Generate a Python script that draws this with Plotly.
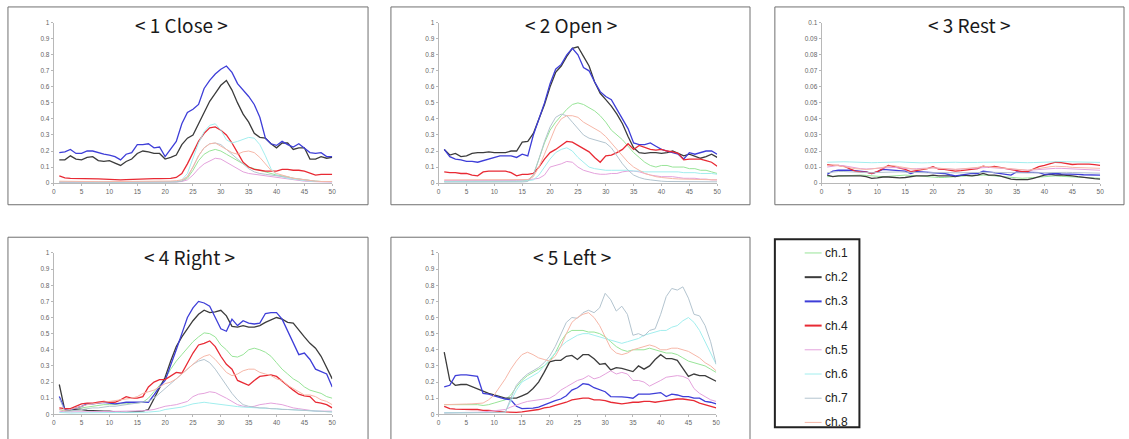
import plotly.graph_objects as go

# ---------------- data ----------------
samples = list(range(1, 51))
channel_names = ["ch.1", "ch.2", "ch.3", "ch.4", "ch.5", "ch.6", "ch.7", "ch.8"]
panel_titles = ["< 1 Close >", "< 2 Open >", "< 3 Rest >", "< 4 Right >", "< 5 Left >"]
x_ticks = [0, 5, 10, 15, 20, 25, 30, 35, 40, 45, 50]

# ---- 1 Close ----
close_ch1 = [0.006, 0.005, 0.005, 0.006, 0.005, 0.005, 0.004, 0.005, 0.005, 0.004,
             0.004, 0.005, 0.005, 0.006, 0.006, 0.005, 0.005, 0.005, 0.006, 0.006,
             0.007, 0.008, 0.012, 0.03, 0.08, 0.14, 0.18, 0.2, 0.21, 0.2,
             0.18, 0.16, 0.14, 0.12, 0.1, 0.09, 0.08, 0.07, 0.06, 0.05,
             0.045, 0.04, 0.03, 0.025, 0.02, 0.015, 0.012, 0.01, 0.01, 0.01]
close_ch2 = [0.145, 0.145, 0.17, 0.15, 0.145, 0.16, 0.165, 0.14, 0.135, 0.14,
             0.125, 0.11, 0.135, 0.15, 0.185, 0.2, 0.195, 0.185, 0.185, 0.15,
             0.16, 0.175, 0.24, 0.28, 0.3, 0.37, 0.45, 0.51, 0.56, 0.61,
             0.64, 0.58, 0.5, 0.43, 0.38, 0.31, 0.285, 0.28, 0.245, 0.22,
             0.25, 0.25, 0.21, 0.22, 0.22, 0.15, 0.15, 0.165, 0.155, 0.16]
close_ch3 = [0.19, 0.195, 0.21, 0.185, 0.185, 0.2, 0.2, 0.19, 0.18, 0.175,
             0.165, 0.145, 0.18, 0.19, 0.24, 0.24, 0.245, 0.22, 0.225, 0.165,
             0.21, 0.26, 0.37, 0.44, 0.46, 0.49, 0.59, 0.64, 0.68, 0.71,
             0.73, 0.69, 0.62, 0.58, 0.54, 0.49, 0.41, 0.28, 0.245, 0.235,
             0.26, 0.24, 0.225, 0.245, 0.22, 0.19, 0.185, 0.19, 0.165, 0.165]
close_ch4 = [0.045, 0.032, 0.03, 0.03, 0.028, 0.028, 0.027, 0.026, 0.025, 0.022,
             0.02, 0.02, 0.022, 0.024, 0.025, 0.026, 0.027, 0.028, 0.028, 0.028,
             0.03, 0.035, 0.06, 0.12, 0.19, 0.26, 0.31, 0.345, 0.35, 0.33,
             0.3, 0.25, 0.19, 0.13, 0.1, 0.085, 0.08, 0.075, 0.075, 0.075,
             0.085, 0.085, 0.08, 0.08, 0.075, 0.06, 0.05, 0.055, 0.055, 0.055]
close_ch5 = [0.005, 0.004, 0.004, 0.005, 0.004, 0.004, 0.003, 0.004, 0.004, 0.003,
             0.003, 0.004, 0.004, 0.005, 0.005, 0.004, 0.004, 0.005, 0.005, 0.005,
             0.006, 0.007, 0.01, 0.02, 0.05, 0.09, 0.12, 0.14, 0.155, 0.15,
             0.13, 0.11, 0.09, 0.07, 0.06, 0.055, 0.05, 0.045, 0.04, 0.035,
             0.03, 0.025, 0.02, 0.015, 0.012, 0.01, 0.008, 0.007, 0.006, 0.006]
close_ch6 = [0.008, 0.007, 0.007, 0.006, 0.006, 0.006, 0.005, 0.005, 0.005, 0.005,
             0.005, 0.005, 0.005, 0.006, 0.006, 0.006, 0.006, 0.006, 0.007, 0.007,
             0.008, 0.01, 0.02, 0.06, 0.15, 0.25, 0.32, 0.36, 0.37, 0.33,
             0.27, 0.25, 0.26, 0.275, 0.285, 0.28, 0.24, 0.17, 0.09, 0.05,
             0.04, 0.03, 0.025, 0.02, 0.015, 0.012, 0.01, 0.01, 0.009, 0.009]
close_ch7 = [0.006, 0.006, 0.005, 0.005, 0.005, 0.005, 0.005, 0.004, 0.004, 0.004,
             0.004, 0.004, 0.005, 0.005, 0.005, 0.005, 0.005, 0.006, 0.006, 0.006,
             0.006, 0.008, 0.012, 0.04, 0.1, 0.17, 0.22, 0.245, 0.25, 0.24,
             0.21, 0.18, 0.15, 0.12, 0.09, 0.07, 0.06, 0.055, 0.05, 0.045,
             0.04, 0.035, 0.03, 0.025, 0.02, 0.015, 0.012, 0.01, 0.01, 0.01]
close_ch8 = [0.012, 0.011, 0.011, 0.01, 0.01, 0.01, 0.01, 0.009, 0.009, 0.009,
             0.009, 0.009, 0.01, 0.01, 0.01, 0.011, 0.011, 0.011, 0.012, 0.012,
             0.013, 0.015, 0.02, 0.04, 0.1, 0.17, 0.22, 0.245, 0.25, 0.23,
             0.21, 0.19, 0.18, 0.195, 0.2, 0.19, 0.16, 0.12, 0.08, 0.06,
             0.05, 0.04, 0.03, 0.025, 0.02, 0.015, 0.012, 0.01, 0.01, 0.01]

# ---- 2 Open ----
open_ch1 = [0.01, 0.01, 0.009, 0.009, 0.009, 0.008, 0.008, 0.008, 0.009, 0.009,
            0.01, 0.01, 0.011, 0.012, 0.014, 0.018, 0.05, 0.15, 0.25, 0.33,
            0.38, 0.42, 0.46, 0.49, 0.5, 0.49, 0.47, 0.45, 0.42, 0.38,
            0.33, 0.3, 0.27, 0.23, 0.19, 0.16, 0.13, 0.11, 0.1, 0.11,
            0.11, 0.1, 0.1, 0.1, 0.09, 0.09, 0.08, 0.08, 0.07, 0.06]
open_ch2 = [0.21, 0.175, 0.185, 0.165, 0.17, 0.185, 0.19, 0.19, 0.195, 0.19,
            0.19, 0.19, 0.2, 0.2, 0.255, 0.26, 0.31, 0.4, 0.49, 0.6,
            0.69, 0.73, 0.79, 0.84, 0.85, 0.79, 0.73, 0.63, 0.56, 0.52,
            0.48, 0.43, 0.37, 0.29, 0.22, 0.19, 0.185, 0.19, 0.19, 0.185,
            0.19, 0.2, 0.185, 0.17, 0.18, 0.165, 0.155, 0.165, 0.18, 0.16]
open_ch3 = [0.21, 0.165, 0.15, 0.145, 0.135, 0.135, 0.13, 0.14, 0.15, 0.16,
            0.17, 0.17, 0.17, 0.16, 0.18, 0.17, 0.3, 0.4, 0.5, 0.62,
            0.71, 0.74, 0.8, 0.84, 0.8, 0.72, 0.7, 0.63, 0.57, 0.54,
            0.52, 0.46, 0.4, 0.34, 0.25, 0.24, 0.24, 0.25, 0.23, 0.21,
            0.2, 0.19, 0.18, 0.15, 0.19, 0.18, 0.19, 0.2, 0.2, 0.18]
open_ch4 = [0.07, 0.065, 0.065, 0.06, 0.06, 0.05, 0.045, 0.07, 0.075, 0.075,
            0.075, 0.075, 0.065, 0.045, 0.055, 0.055, 0.06, 0.1, 0.15, 0.19,
            0.21, 0.235, 0.26, 0.255, 0.235, 0.22, 0.195, 0.16, 0.13, 0.17,
            0.175, 0.19, 0.21, 0.245, 0.21, 0.235, 0.22, 0.21, 0.205, 0.21,
            0.2, 0.195, 0.185, 0.145, 0.15, 0.15, 0.15, 0.14, 0.13, 0.105]
open_ch5 = [0.015, 0.015, 0.014, 0.014, 0.013, 0.012, 0.012, 0.012, 0.013, 0.013,
            0.014, 0.015, 0.015, 0.016, 0.018, 0.02, 0.025, 0.03, 0.05, 0.1,
            0.11, 0.12, 0.135, 0.13, 0.1, 0.08, 0.07, 0.06, 0.055, 0.055,
            0.06, 0.06, 0.07, 0.075, 0.075, 0.07, 0.06, 0.05, 0.045, 0.04,
            0.04, 0.04, 0.035, 0.03, 0.03, 0.03, 0.025, 0.025, 0.02, 0.02]
open_ch6 = [0.01, 0.01, 0.009, 0.009, 0.009, 0.008, 0.008, 0.008, 0.008, 0.009,
            0.009, 0.01, 0.01, 0.01, 0.012, 0.015, 0.02, 0.05, 0.1, 0.15,
            0.19, 0.21, 0.22, 0.2, 0.16, 0.13, 0.1, 0.09, 0.085, 0.08,
            0.08, 0.08, 0.08, 0.08, 0.075, 0.075, 0.07, 0.07, 0.07, 0.07,
            0.07, 0.07, 0.07, 0.065, 0.065, 0.065, 0.06, 0.06, 0.06, 0.055]
open_ch7 = [0.006, 0.006, 0.006, 0.005, 0.005, 0.005, 0.005, 0.005, 0.005, 0.005,
            0.005, 0.006, 0.006, 0.006, 0.007, 0.01, 0.05, 0.15, 0.26, 0.35,
            0.41, 0.43, 0.42, 0.38, 0.34, 0.3, 0.28, 0.27, 0.26, 0.25,
            0.22, 0.17, 0.12, 0.08, 0.05, 0.035, 0.025, 0.02, 0.015, 0.012,
            0.01, 0.01, 0.01, 0.01, 0.009, 0.009, 0.009, 0.008, 0.008, 0.008]
open_ch8 = [0.02, 0.02, 0.02, 0.019, 0.019, 0.018, 0.018, 0.018, 0.019, 0.019,
            0.02, 0.02, 0.02, 0.02, 0.02, 0.022, 0.04, 0.1, 0.18, 0.27,
            0.35, 0.4, 0.42, 0.42, 0.41, 0.38, 0.36, 0.34, 0.32, 0.29,
            0.25, 0.21, 0.17, 0.13, 0.1, 0.08, 0.06, 0.05, 0.04, 0.035,
            0.03, 0.028, 0.026, 0.025, 0.024, 0.022, 0.022, 0.02, 0.02, 0.02]

# ---- 3 Rest ----
rest_ch1 = [0.004, 0.0042, 0.0045, 0.0045, 0.0048, 0.005, 0.005, 0.0048, 0.0045, 0.004,
            0.004, 0.0042, 0.0045, 0.0048, 0.005, 0.0048, 0.0045, 0.0042, 0.004, 0.0038,
            0.0035, 0.0035, 0.0038, 0.004, 0.0042, 0.0045, 0.0045, 0.0048, 0.005, 0.0048,
            0.0045, 0.0042, 0.004, 0.0035, 0.003, 0.003, 0.0032, 0.0035, 0.004, 0.0042,
            0.0045, 0.0045, 0.0042, 0.004, 0.0038, 0.0035, 0.0035, 0.0032, 0.003, 0.003]
rest_ch2 = [0.005, 0.004, 0.0045, 0.0045, 0.0045, 0.0045, 0.0045, 0.004, 0.003, 0.0032,
            0.0038, 0.0038, 0.0035, 0.0032, 0.0035, 0.0042, 0.0045, 0.0045, 0.0045, 0.005,
            0.0045, 0.0045, 0.0045, 0.004, 0.0048, 0.0048, 0.0045, 0.005, 0.006, 0.005,
            0.005, 0.0045, 0.0035, 0.0025, 0.0022, 0.0022, 0.0022, 0.003, 0.004, 0.005,
            0.0055, 0.005, 0.0052, 0.005, 0.0045, 0.004, 0.0035, 0.003, 0.0028, 0.0025]
rest_ch3 = [0.0055, 0.0075, 0.008, 0.0082, 0.008, 0.0078, 0.0075, 0.007, 0.006, 0.007,
            0.0085, 0.0082, 0.008, 0.008, 0.0075, 0.006, 0.0072, 0.007, 0.0068, 0.0065,
            0.0062, 0.006, 0.0052, 0.0045, 0.005, 0.0055, 0.006, 0.006, 0.0075, 0.007,
            0.0065, 0.006, 0.0058, 0.005, 0.007, 0.0068, 0.0065, 0.0067, 0.0065, 0.0055,
            0.0058, 0.006, 0.0058, 0.0058, 0.0055, 0.0055, 0.0052, 0.005, 0.005, 0.005]
rest_ch4 = [0.0115, 0.011, 0.011, 0.0105, 0.009, 0.0075, 0.007, 0.0068, 0.006, 0.0072,
            0.009, 0.011, 0.0102, 0.0095, 0.0086, 0.0072, 0.0078, 0.0082, 0.009, 0.0102,
            0.0088, 0.0086, 0.0082, 0.0075, 0.0078, 0.0082, 0.0088, 0.009, 0.0106, 0.0098,
            0.0104, 0.0098, 0.0092, 0.0085, 0.008, 0.0072, 0.0071, 0.0085, 0.0102, 0.011,
            0.0122, 0.013, 0.0128, 0.0122, 0.0116, 0.0118, 0.012, 0.0118, 0.0115, 0.011]
rest_ch5 = [0.01, 0.0105, 0.011, 0.0108, 0.0102, 0.0095, 0.009, 0.0088, 0.009, 0.0095,
            0.0098, 0.01, 0.0098, 0.0095, 0.009, 0.0088, 0.009, 0.0092, 0.0095, 0.0095,
            0.0092, 0.009, 0.0088, 0.0085, 0.0088, 0.009, 0.0092, 0.0095, 0.0098, 0.0098,
            0.0095, 0.0092, 0.009, 0.0088, 0.0085, 0.0082, 0.008, 0.0082, 0.0085, 0.0088,
            0.009, 0.0092, 0.0092, 0.009, 0.0088, 0.0088, 0.0085, 0.0085, 0.0082, 0.008]
rest_ch6 = [0.013, 0.0132, 0.0133, 0.0133, 0.0132, 0.013, 0.0128, 0.0127, 0.0127, 0.0128,
            0.013, 0.0131, 0.0132, 0.0132, 0.013, 0.0128, 0.0127, 0.0126, 0.0127, 0.0128,
            0.013, 0.0131, 0.0131, 0.013, 0.0129, 0.0128, 0.0128, 0.0129, 0.013, 0.0131,
            0.0132, 0.0132, 0.0131, 0.013, 0.0128, 0.0127, 0.0127, 0.0128, 0.013, 0.0132,
            0.0133, 0.0134, 0.0134, 0.0133, 0.0132, 0.0131, 0.013, 0.013, 0.0129, 0.0129]
rest_ch7 = [0.0065, 0.007, 0.0072, 0.0072, 0.007, 0.0068, 0.0066, 0.0065, 0.0064, 0.0066,
            0.0068, 0.007, 0.0071, 0.007, 0.0068, 0.0066, 0.0064, 0.0063, 0.0064, 0.0065,
            0.0066, 0.0066, 0.0065, 0.0064, 0.0063, 0.0064, 0.0065, 0.0066, 0.0068, 0.0068,
            0.0067, 0.0066, 0.0065, 0.0063, 0.0062, 0.0062, 0.0063, 0.0064, 0.0065, 0.0066,
            0.0067, 0.0068, 0.0068, 0.0067, 0.0066, 0.0065, 0.0064, 0.0063, 0.0062, 0.0062]
rest_ch8 = [0.011, 0.0112, 0.0108, 0.0102, 0.0095, 0.009, 0.0088, 0.0085, 0.0088, 0.0092,
            0.0098, 0.0105, 0.0108, 0.0102, 0.0095, 0.0088, 0.0085, 0.0088, 0.0092, 0.0095,
            0.0093, 0.009, 0.0088, 0.0086, 0.0088, 0.009, 0.0094, 0.0098, 0.0105, 0.0102,
            0.0098, 0.0095, 0.0092, 0.009, 0.0086, 0.0082, 0.008, 0.0085, 0.0092, 0.0098,
            0.0102, 0.0105, 0.0105, 0.0102, 0.0098, 0.0096, 0.0095, 0.0094, 0.0093, 0.0092]

# ---- 4 Right ----
right_ch1 = [0.03, 0.02, 0.025, 0.03, 0.04, 0.045, 0.05, 0.055, 0.06, 0.06,
             0.06, 0.065, 0.065, 0.07, 0.07, 0.075, 0.1, 0.14, 0.18, 0.22,
             0.28, 0.33, 0.37, 0.41, 0.45, 0.48, 0.505, 0.5, 0.48, 0.43,
             0.4, 0.36, 0.355, 0.37, 0.4, 0.41, 0.4, 0.385, 0.36, 0.32,
             0.28, 0.25, 0.22, 0.2, 0.17, 0.15, 0.14, 0.13, 0.11, 0.1]
right_ch2 = [0.185, 0.025, 0.03, 0.03, 0.03, 0.025, 0.025, 0.022, 0.02, 0.02,
             0.015, 0.012, 0.012, 0.015, 0.018, 0.02, 0.03, 0.1, 0.17, 0.23,
             0.33, 0.42, 0.48, 0.53, 0.58, 0.62, 0.645, 0.63, 0.635, 0.645,
             0.61, 0.545, 0.54, 0.55, 0.54, 0.54, 0.55, 0.57, 0.585, 0.6,
             0.59, 0.57, 0.565, 0.52, 0.48, 0.44, 0.41, 0.36, 0.29, 0.22]
right_ch3 = [0.11, 0.03, 0.03, 0.04, 0.05, 0.065, 0.065, 0.07, 0.075, 0.07,
             0.065, 0.07, 0.075, 0.075, 0.075, 0.075, 0.075, 0.12, 0.17, 0.21,
             0.3, 0.4, 0.5, 0.6, 0.66, 0.7, 0.69, 0.67, 0.6, 0.53,
             0.515, 0.59, 0.55, 0.58, 0.565, 0.56, 0.565, 0.625, 0.63, 0.63,
             0.59, 0.52, 0.45, 0.37, 0.38, 0.34, 0.28, 0.265, 0.25, 0.17]
right_ch4 = [0.04, 0.035, 0.035, 0.05, 0.065, 0.07, 0.07, 0.075, 0.08, 0.075,
             0.075, 0.09, 0.11, 0.1, 0.1, 0.11, 0.17, 0.2, 0.215, 0.215,
             0.24, 0.26, 0.255, 0.32, 0.38, 0.43, 0.44, 0.455, 0.42, 0.36,
             0.31, 0.28, 0.21, 0.195, 0.18, 0.21, 0.235, 0.24, 0.245, 0.235,
             0.205, 0.175, 0.15, 0.125, 0.115, 0.11, 0.075, 0.07, 0.06, 0.04]
right_ch5 = [0.02, 0.015, 0.015, 0.015, 0.016, 0.016, 0.017, 0.017, 0.018, 0.018,
             0.018, 0.019, 0.02, 0.02, 0.02, 0.022, 0.025, 0.03, 0.04, 0.05,
             0.055, 0.06, 0.07, 0.08, 0.11, 0.125, 0.13, 0.14, 0.135, 0.12,
             0.1, 0.08, 0.06, 0.05, 0.045, 0.05, 0.06, 0.065, 0.07, 0.065,
             0.06, 0.05, 0.04, 0.035, 0.03, 0.025, 0.02, 0.02, 0.02, 0.02]
right_ch6 = [0.012, 0.008, 0.008, 0.009, 0.009, 0.01, 0.01, 0.01, 0.011, 0.011,
             0.011, 0.011, 0.012, 0.012, 0.012, 0.013, 0.014, 0.016, 0.02, 0.03,
             0.035, 0.04, 0.045, 0.055, 0.065, 0.07, 0.075, 0.07, 0.065, 0.06,
             0.055, 0.05, 0.048, 0.045, 0.043, 0.04, 0.038, 0.036, 0.035, 0.035,
             0.033, 0.03, 0.028, 0.025, 0.022, 0.02, 0.018, 0.016, 0.015, 0.015]
right_ch7 = [0.1, 0.02, 0.02, 0.025, 0.03, 0.035, 0.04, 0.04, 0.045, 0.05,
             0.05, 0.055, 0.06, 0.065, 0.07, 0.075, 0.08, 0.1, 0.13, 0.16,
             0.19, 0.22, 0.25, 0.28, 0.31, 0.33, 0.34, 0.32, 0.28, 0.23,
             0.18, 0.13, 0.09, 0.06, 0.05, 0.045, 0.04, 0.04, 0.035, 0.035,
             0.03, 0.03, 0.028, 0.025, 0.022, 0.02, 0.02, 0.018, 0.016, 0.015]
right_ch8 = [0.03, 0.025, 0.03, 0.04, 0.05, 0.06, 0.065, 0.07, 0.075, 0.08,
             0.085, 0.09, 0.095, 0.1, 0.11, 0.13, 0.14, 0.15, 0.17, 0.19,
             0.2, 0.22, 0.25, 0.28, 0.31, 0.34, 0.36, 0.37, 0.34, 0.3,
             0.26, 0.24, 0.25, 0.27, 0.28, 0.28, 0.26, 0.25, 0.24, 0.22,
             0.21, 0.18, 0.16, 0.14, 0.12, 0.12, 0.11, 0.09, 0.08, 0.06]

# ---- 5 Left ----
left_ch1 = [0.06, 0.06, 0.058, 0.058, 0.057, 0.058, 0.06, 0.055, 0.06, 0.07,
            0.08, 0.09, 0.12, 0.17, 0.21, 0.24, 0.26, 0.28, 0.3, 0.33,
            0.38, 0.45, 0.5, 0.52, 0.52, 0.52, 0.51, 0.51, 0.5, 0.48,
            0.45, 0.42, 0.4, 0.39, 0.4, 0.4, 0.4, 0.41, 0.4, 0.39,
            0.38, 0.38, 0.37, 0.35, 0.33, 0.32, 0.31, 0.3, 0.28, 0.26]
left_ch2 = [0.385, 0.21, 0.18, 0.185, 0.185, 0.17, 0.155, 0.145, 0.13, 0.12,
            0.11, 0.1, 0.1, 0.1, 0.115, 0.13, 0.16, 0.2, 0.26, 0.325,
            0.335, 0.335, 0.36, 0.365, 0.34, 0.37, 0.37, 0.345, 0.31, 0.315,
            0.275, 0.29, 0.285, 0.275, 0.265, 0.3, 0.28, 0.3, 0.34, 0.37,
            0.345, 0.345, 0.335, 0.285, 0.235, 0.25, 0.24, 0.24, 0.22, 0.205]
left_ch3 = [0.17, 0.18, 0.24, 0.245, 0.245, 0.24, 0.235, 0.13, 0.125, 0.115,
            0.105, 0.095, 0.09, 0.05, 0.035, 0.035, 0.038, 0.045, 0.06, 0.075,
            0.085, 0.095, 0.115, 0.15, 0.165, 0.19, 0.185, 0.165, 0.15, 0.14,
            0.11, 0.11, 0.108, 0.105, 0.1, 0.125, 0.125, 0.125, 0.13, 0.135,
            0.11, 0.125, 0.12, 0.11, 0.11, 0.1, 0.1, 0.08, 0.075, 0.065]
left_ch4 = [0.05, 0.035, 0.032, 0.03, 0.03, 0.03, 0.03, 0.025, 0.025, 0.02,
            0.018, 0.015, 0.012, 0.012, 0.015, 0.02, 0.025, 0.03, 0.04, 0.045,
            0.055, 0.065, 0.075, 0.09, 0.095, 0.1, 0.1, 0.09, 0.09, 0.085,
            0.075, 0.07, 0.065, 0.07, 0.075, 0.075, 0.08, 0.08, 0.075, 0.08,
            0.085, 0.09, 0.095, 0.095, 0.09, 0.085, 0.07, 0.06, 0.05, 0.04]
left_ch5 = [0.01, 0.01, 0.01, 0.011, 0.011, 0.012, 0.013, 0.015, 0.018, 0.02,
            0.025, 0.03, 0.045, 0.06, 0.07, 0.08, 0.085, 0.09, 0.095, 0.1,
            0.12, 0.15, 0.17, 0.19, 0.21, 0.22, 0.24, 0.22, 0.23, 0.25,
            0.27, 0.25, 0.26, 0.25, 0.21, 0.21, 0.2, 0.175, 0.19, 0.21,
            0.23, 0.235, 0.24, 0.235, 0.22, 0.16, 0.13, 0.11, 0.09, 0.08]
left_ch6 = [0.01, 0.01, 0.01, 0.01, 0.01, 0.011, 0.011, 0.011, 0.012, 0.012,
            0.012, 0.015, 0.08, 0.15, 0.2, 0.22, 0.24, 0.26, 0.3, 0.34,
            0.38, 0.42, 0.45, 0.47, 0.49, 0.5, 0.5, 0.49, 0.48, 0.47,
            0.46, 0.45, 0.44, 0.45, 0.46, 0.47, 0.49, 0.5, 0.51, 0.52,
            0.52, 0.54, 0.55, 0.58, 0.6, 0.57, 0.52, 0.45, 0.38, 0.31]
left_ch7 = [0.008, 0.008, 0.009, 0.009, 0.009, 0.01, 0.01, 0.01, 0.01, 0.011,
            0.011, 0.012, 0.1, 0.18, 0.22, 0.25, 0.27, 0.29, 0.32, 0.36,
            0.42, 0.5, 0.57, 0.6, 0.595, 0.63, 0.645, 0.63, 0.66, 0.75,
            0.71, 0.64, 0.67, 0.62, 0.49, 0.5, 0.485, 0.52, 0.53, 0.62,
            0.73, 0.78, 0.77, 0.79, 0.72, 0.62, 0.61, 0.55, 0.45, 0.31]
left_ch8 = [0.06, 0.06, 0.062, 0.062, 0.064, 0.065, 0.066, 0.07, 0.09, 0.12,
            0.17, 0.22, 0.28, 0.33, 0.37, 0.385, 0.37, 0.35, 0.34, 0.33,
            0.36, 0.42, 0.5, 0.57, 0.6, 0.62, 0.63, 0.6, 0.55, 0.48,
            0.41, 0.38, 0.37, 0.38, 0.4, 0.41, 0.42, 0.43, 0.42, 0.4,
            0.4, 0.41, 0.41, 0.4, 0.39, 0.37, 0.35, 0.32, 0.3, 0.27]

y_max = [1.0, 1.0, 0.1, 1.0, 1.0]
y_dtick = [0.1, 0.1, 0.01, 0.1, 0.1]

# ---------------- styling ----------------
W, H = 1129, 439
colors = ["#98e498", "#3c3c3c", "#3e3ed8", "#e82a34", "#e4a2dc", "#a2eeee", "#b3c4cf", "#f6b7a8"]
widths = [1.0, 1.3, 1.3, 1.3, 1.0, 1.0, 1.0, 1.0]
legend_widths = [1.0, 2.0, 2.0, 2.0, 1.0, 1.0, 1.0, 1.0]

# plot areas in pixels: (left, right, top, bottom)
plot_px = [(52, 332, 19, 182), (439, 719, 19, 182), (824, 1104, 19, 182),
           (52, 332, 253, 417), (439, 718, 253, 417)]
# panel frames in pixels: (left, right, top, bottom)
frame_px = [(6, 368, 3, 204), (391, 752, 3, 204), (777, 1128, 3, 204),
            (6, 368, 237, 445), (391, 752, 237, 445)]
title_px = [(180, 21), (572, 21), (972, 21), (188, 257), (573, 257)]

panels = [
    [close_ch1, close_ch2, close_ch3, close_ch4, close_ch5, close_ch6, close_ch7, close_ch8],
    [open_ch1, open_ch2, open_ch3, open_ch4, open_ch5, open_ch6, open_ch7, open_ch8],
    [rest_ch1, rest_ch2, rest_ch3, rest_ch4, rest_ch5, rest_ch6, rest_ch7, rest_ch8],
    [right_ch1, right_ch2, right_ch3, right_ch4, right_ch5, right_ch6, right_ch7, right_ch8],
    [left_ch1, left_ch2, left_ch3, left_ch4, left_ch5, left_ch6, left_ch7, left_ch8],
]


def px_x(v):
    return v / W


def px_y(v):
    return 1 - v / H


fig = go.Figure()
layout = dict(width=W, height=H, margin=dict(l=0, r=0, t=0, b=0, pad=0),
              paper_bgcolor="white", plot_bgcolor="white", showlegend=False)

axis_common = dict(showline=True, linecolor="#b8b8b8", linewidth=1, ticks="outside",
                   ticklen=2, tickwidth=1, tickcolor="#b8b8b8", showgrid=False,
                   zeroline=False, tickfont=dict(family="Liberation Sans", size=6.5, color="#666666"))

shapes = []
annotations = []

for p, series in enumerate(panels):
    n = p + 1
    xa = "x" if n == 1 else f"x{n}"
    ya = "y" if n == 1 else f"y{n}"
    for c, vals in enumerate(series):
        fig.add_trace(go.Scatter(x=samples, y=vals, mode="lines", name=channel_names[c],
                                 line=dict(color=colors[c], width=widths[c]),
                                 xaxis=xa, yaxis=ya, hoverinfo="skip", showlegend=False))
    l, r, t, b = plot_px[p]
    layout["xaxis" if n == 1 else f"xaxis{n}"] = dict(
        axis_common, domain=[px_x(l), px_x(r)], range=[0, 50], tickvals=x_ticks,
        anchor=ya)
    layout["yaxis" if n == 1 else f"yaxis{n}"] = dict(
        axis_common, domain=[px_y(b), px_y(t)], range=[0, y_max[p]], dtick=y_dtick[p],
        tick0=0, anchor=xa)
    fl, fr, ft, fb = frame_px[p]
    shapes.append(dict(type="rect", xref="paper", yref="paper",
                       x0=px_x(fl), x1=px_x(fr), y0=px_y(fb), y1=px_y(ft),
                       line=dict(color="#707070", width=1), fillcolor="rgba(0,0,0,0)"))
    tx, ty = title_px[p]
    annotations.append(dict(text=panel_titles[p], xref="paper", yref="paper",
                            x=px_x(tx), y=px_y(ty), xanchor="center", yanchor="middle",
                            showarrow=False,
                            font=dict(family="Noto Sans CJK KR", size=19, color="#1a1a1a")))

# legend box
shapes.append(dict(type="rect", xref="paper", yref="paper",
                   x0=px_x(777), x1=px_x(862), y0=px_y(430), y1=px_y(239),
                   line=dict(color="#222222", width=2), fillcolor="white"))
for c, name in enumerate(channel_names):
    yy = 253 + 24.6 * c
    shapes.append(dict(type="line", xref="paper", yref="paper",
                       x0=px_x(807), x1=px_x(824), y0=px_y(yy), y1=px_y(yy),
                       line=dict(color=colors[c], width=legend_widths[c])))
    annotations.append(dict(text=name, xref="paper", yref="paper",
                            x=px_x(825), y=px_y(yy), xanchor="left", yanchor="middle",
                            showarrow=False,
                            font=dict(family="Liberation Sans", size=12, color="#222222")))

layout["shapes"] = shapes
layout["annotations"] = annotations
fig.update_layout(**layout)
fig.write_html("out.html", config={"displayModeBar": False},
               post_script="document.body.style.margin='0px';")
